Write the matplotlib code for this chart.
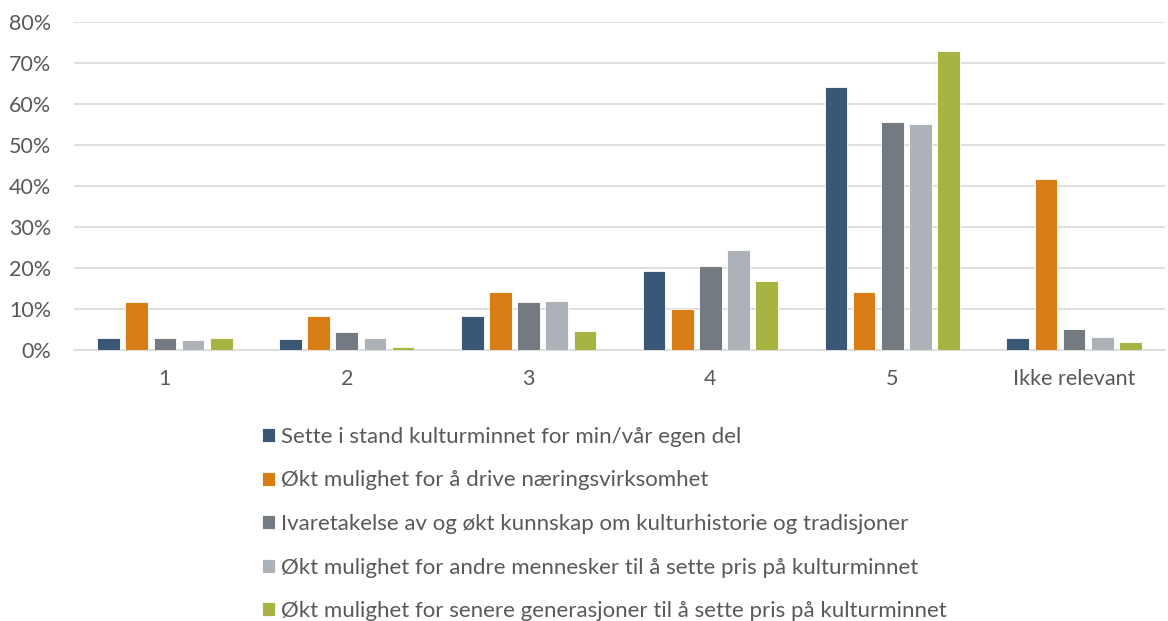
import numpy as np
from matplotlib import pyplot as plt

categories = ['1', '2', '3', '4', '5', 'Ikke relevant']
series_names = [
    'Sette i stand kulturminnet for min/vår egen del',
    'Økt mulighet for å drive næringsvirksomhet',
    'Ivaretakelse av og økt kunnskap om kulturhistorie og tradisjoner',
    'Økt mulighet for andre mennesker til å sette pris på kulturminnet',
    'Økt mulighet for senere generasjoner til å sette pris på kulturminnet',
]
sette_i_stand = [2.9, 2.7, 8.3, 19.3, 64.1, 2.9]
naering = [11.8, 8.2, 14.2, 9.9, 14.2, 41.7]
kulturhistorie = [3.0, 4.4, 11.7, 20.4, 55.7, 5.0]
andre_mennesker = [2.4, 3.0, 11.9, 24.4, 55.2, 3.1]
senere_gen = [3.0, 0.7, 4.6, 16.8, 73.0, 1.9]

colors = ['#3A5775', '#D97E17', '#737A82', '#ADB2B8', '#A8B441']

plt.rcParams['font.family'] = ['Lato', 'DejaVu Sans']

fig = plt.figure(figsize=(11.68, 6.21), dpi=100)
ax = fig.add_axes([74 / 1168, 1 - 350 / 621, 1091 / 1168, 328 / 621])

x = np.arange(len(categories))
step = 0.155
width = 0.125
all_series = [sette_i_stand, naering, kulturhistorie, andre_mennesker, senere_gen]
for i, (vals, name) in enumerate(zip(all_series, series_names)):
    ax.bar(x + (i - 2) * step, np.array(vals) / 100, width, color=colors[i],
           edgecolor='white', linewidth=0.6, label=name, zorder=3)

ax.set_xlim(-0.5, len(categories) - 0.5)
ax.set_ylim(0, 0.8)
ax.set_yticks(np.arange(0, 0.81, 0.1))
ax.set_yticklabels([f'{int(round(v * 100))}%' for v in np.arange(0, 0.81, 0.1)])
ax.set_xticks(x)
ax.set_xticklabels(categories)
ax.yaxis.grid(True, color='#D9D9D9', linewidth=1.2, zorder=0)
ax.tick_params(axis='both', length=0, labelsize=15.5, colors='#595959')
ax.tick_params(axis='x', pad=14)
ax.tick_params(axis='y', pad=16.5)
for s in ['top', 'right', 'left']:
    ax.spines[s].set_visible(False)
ax.spines['bottom'].set_color('#D9D9D9')
ax.spines['bottom'].set_linewidth(1.2)

leg = fig.legend(loc='upper left', bbox_to_anchor=(253 / 1168, 1 - 418 / 621), ncol=1,
                 frameon=False, fontsize=16, labelspacing=1.06, handlelength=0.6,
                 handleheight=0.6, handletextpad=0.25, borderaxespad=0)
for t in leg.get_texts():
    t.set_color('#595959')

plt.savefig('out.png', dpi=100)
